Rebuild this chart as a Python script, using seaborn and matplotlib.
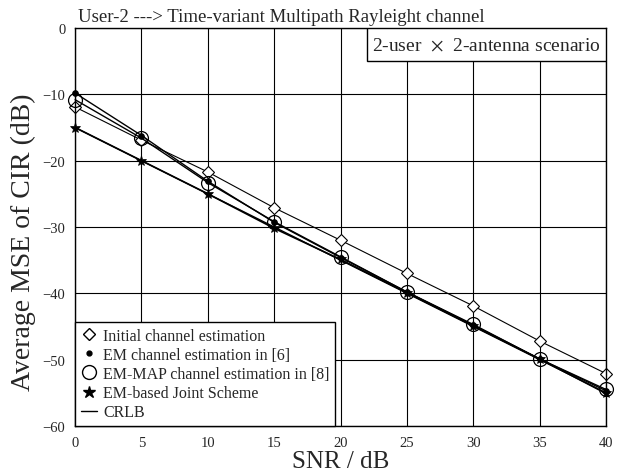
import numpy as np
import pandas as pd
import matplotlib
matplotlib.use('Agg')
import matplotlib.pyplot as plt
import seaborn as sns
from matplotlib.lines import Line2D
from matplotlib.patches import Rectangle

# data
snr = [0, 5, 10, 15, 20, 25, 30, 35, 40]
initial = [-11.9, -16.9, -21.7, -27.1, -32.0, -37.0, -41.9, -47.2, -52.1]
em = [-9.8, -16.2, -23.1, -29.3, -34.6, -39.8, -44.8, -49.9, -54.7]
em_map = [-10.8, -16.6, -23.3, -29.2, -34.5, -39.8, -44.7, -49.9, -54.5]
joint = [-15.0, -20.0, -25.0, -30.2, -34.9, -39.9, -44.9, -49.9, -55.1]
crlb = [-15.0, -20.0, -25.0, -30.0, -35.0, -40.0, -45.0, -50.0, -55.0]

labels = ['Initial channel estimation', 'EM channel estimation in [6]',
          'EM-MAP channel estimation in [8]', 'EM-based Joint Scheme', 'CRLB']

sns.set_style('white')
plt.rcParams['font.family'] = ['Liberation Serif', 'DejaVu Serif']
plt.rcParams['mathtext.fontset'] = 'stix'

fig = plt.figure(figsize=(6.26, 4.77), dpi=100)
ax = fig.add_axes([0.12, 0.105, 0.848, 0.834])

#plot curves
sns.lineplot(x=snr, y=crlb, ax=ax, color='black', lw=1.0, clip_on=False)
sns.lineplot(x=snr, y=initial, ax=ax, color='black', lw=0.8, marker='D', clip_on=False,
             markersize=6, markerfacecolor='white', markeredgecolor='black', markeredgewidth=0.8)
sns.lineplot(x=snr, y=em_map, ax=ax, color='black', lw=1.0, marker='o', clip_on=False,
             markersize=10, markerfacecolor='none', markeredgecolor='black', markeredgewidth=0.9)
sns.lineplot(x=snr, y=em, ax=ax, color='black', lw=1.0, marker='o', clip_on=False,
             markersize=4, markerfacecolor='black', markeredgecolor='black')
sns.lineplot(x=snr, y=joint, ax=ax, color='black', lw=1.2, marker='*', clip_on=False,
             markersize=8, markerfacecolor='black', markeredgecolor='black', markeredgewidth=0.5)

ax.set_xlim(0, 40)
ax.set_ylim(-60, 0)
ax.set_xticks(np.arange(0, 41, 5))
ax.set_yticks(np.arange(-60, 1, 10))
ax.grid(True, color='black', lw=0.8)
ax.set_axisbelow(True)
ax.tick_params(length=0, labelsize=10.5, pad=7)
for s in ax.spines.values():
    s.set_color('black')
    s.set_linewidth(1.0)

ax.set_xlabel('SNR / dB', fontsize=18, labelpad=1)
ax.set_ylabel('Average MSE of CIR (dB)', fontsize=20)
ax.yaxis.set_label_coords(-0.073, 0.465)
ax.set_title('User-2 ---> Time-variant Multipath Rayleight channel', fontsize=13.5,
             loc='left', x=0.005, pad=5)

# scenario box flush with the top right corner
ax.add_patch(Rectangle((0.55, 0.917), 0.45, 0.083, transform=ax.transAxes,
                       facecolor='white', edgecolor='black', lw=1.0, zorder=5))
ax.text(0.775, 0.958, r'2-user  $\times$  2-antenna scenario', transform=ax.transAxes,
        ha='center', va='center', fontsize=14, zorder=6)

handles = [
    Line2D([], [], ls='none', marker='D', markersize=6.5, markerfacecolor='white', markeredgecolor='black'),
    Line2D([], [], ls='none', marker='o', markersize=3.5, markerfacecolor='black', markeredgecolor='black'),
    Line2D([], [], ls='none', marker='o', markersize=10, markerfacecolor='none', markeredgecolor='black'),
    Line2D([], [], ls='none', marker='*', markersize=9, markerfacecolor='black', markeredgecolor='black'),
    Line2D([], [], color='black', lw=1.0),
]
leg = ax.legend(handles, labels, loc='lower left', fontsize=11.5, frameon=True, fancybox=False,
                borderaxespad=0, handlelength=1.0, handletextpad=0.4, labelspacing=0.2,
                borderpad=0.35, framealpha=1)
leg.get_frame().set_edgecolor('black')
leg.get_frame().set_linewidth(1.0)

fig.savefig('out.png', dpi=100)
